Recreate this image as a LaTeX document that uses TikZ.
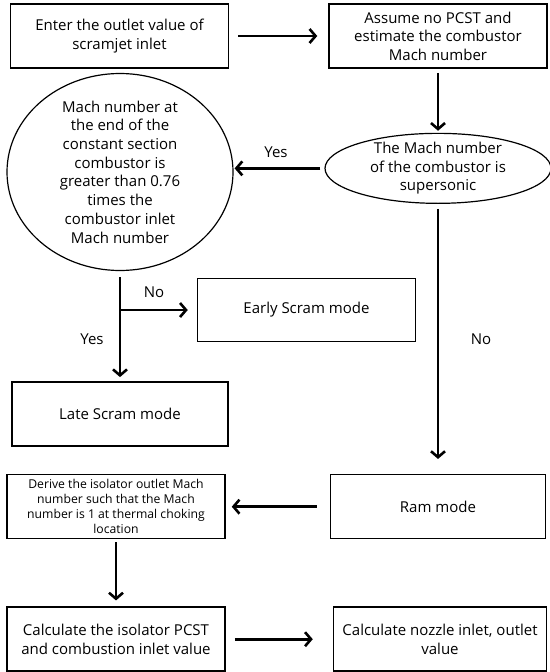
\documentclass[tikz,border=0pt]{standalone}
\usepackage{fontspec}
\setmainfont{Open Sans}
\usetikzlibrary{arrows.meta,positioning,shapes.geometric}

\begin{document}
\begin{tikzpicture}[x=1pt,y=-1pt,>={Straight Barb[length=6pt,width=14pt]},
  font=\fontsize{15}{18.5}\selectfont,
  proc/.style={draw, line width=1.5pt, minimum width=218pt, minimum height=64pt, align=center, inner sep=2pt},
  test/.style={draw, ellipse, line width=1.2pt, align=center, inner xsep=0pt, inner ysep=-6pt},
  flow/.style={->, line width=2.6pt}]

\useasboundingbox (0,0) rectangle (549,672);

\node[proc] (enter) at (119.5,36) {Enter the outlet value of\\scramjet inlet};
\node[proc] (assume) [right=99pt of enter] {Assume no PCST and\\estimate the combustor\\Mach number};
\node[test, minimum width=226pt, minimum height=70pt] (super) [below=64pt of assume] {The Mach number\\of the combustor is\\supersonic};
\node[test, minimum width=226pt, minimum height=197pt, font=\fontsize{15}{18.7}\selectfont] (cond) at (120,172) {Mach number at\\the end of the\\constant section\\combustor is\\greater than 0.76\\times the\\combustor inlet\\Mach number};
\node[proc, minimum height=63pt] (early) at (306.5,310) {Early Scram mode};
\node[proc, minimum width=216pt] (late) [below=110pt of cond] {Late Scram mode};
\node[proc, minimum width=215pt] (ram) [below=270pt of super] {Ram mode};
\node[proc, font=\fontsize{12.2}{15}\selectfont] (derive) [left=104pt of ram] {Derive the isolator outlet Mach\\number such that the Mach\\number is 1 at thermal choking\\location};
\node[proc] (calc) [below=67pt of derive] {Calculate the isolator PCST\\and combustion inlet value};
\node[proc, minimum width=213pt] (nozzle) [right=107pt of calc] {Calculate nozzle inlet, outlet\\value};

\coordinate (split) at (cond.south |- early.west);

% decision labels
\node (yes1) at (276,152) {Yes};
\node (no1) at (154,292) {No};
\node (yes2) at (92,339) {Yes};
\node (no2) at (481,339) {No};

\draw[flow, shorten <=9pt, shorten >=11pt] (enter) -- (assume);
\draw[flow, shorten <=4pt, shorten >=2pt] (assume) -- (super);
\draw[flow, shorten <=4pt, shorten >=1pt] (super.west) -- (super.west -| cond.east);
\draw[flow, shorten <=5pt, shorten >=15pt] (super) -- (ram);
\draw[flow, shorten <=6pt, shorten >=4pt] (cond) -- (late);
\draw[flow, shorten >=9pt] (split) -- (early.west);
\draw[flow, shorten <=13pt, shorten >=6pt] (ram) -- (derive);
\draw[flow, shorten <=3pt, shorten >=6pt] (derive) -- (calc);
\draw[flow, shorten <=9pt, shorten >=20pt] (calc) -- (nozzle);

\end{tikzpicture}
\end{document}
